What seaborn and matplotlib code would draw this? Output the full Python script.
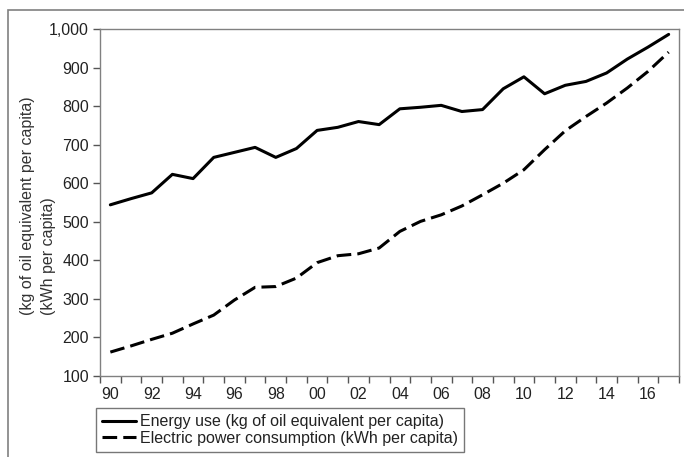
import numpy as np
import pandas as pd
import matplotlib
matplotlib.use("Agg")
import matplotlib.pyplot as plt
import seaborn as sns
from matplotlib.patches import Rectangle
from matplotlib.ticker import FuncFormatter

years = list(range(1990, 2018))
energy_use = [544, 560, 575, 623, 612, 667, 680, 693, 667, 690, 737, 745, 760, 752,
              793, 797, 802, 786, 791, 845, 876, 832, 854, 864, 886, 922, 953, 986]
electric_power = [162, 178, 195, 211, 235, 258, 297, 330, 332, 354, 394, 412, 417, 432,
                  475, 501, 518, 541, 570, 600, 635, 687, 736, 773, 808, 847, 890, 940]
series_names = ["Energy use (kg of oil equivalent per capita)",
                "Electric power consumption (kWh per capita)"]
y_label = "(kg of oil equivalent per capita)\n(kWh per capita)"

df = pd.DataFrame({
    "year": years * 2,
    "value": energy_use + electric_power,
    "series": [series_names[0]] * len(years) + [series_names[1]] * len(years),
})

sns.set_style("white")
plt.rcParams['font.family'] = ['Liberation Sans', 'DejaVu Sans']
FS = 11.5

fig = plt.figure(figsize=(6.84, 4.57), dpi=100)
ax = fig.add_axes([100 / 684, 1 - 376 / 457, 579 / 684, 347 / 457])

sns.lineplot(data=df, x="year", y="value", style="series",
             dashes={series_names[0]: "", series_names[1]: (4.8, 2.0)},
             color="black", lw=2.2, ax=ax)

# outer frame, partly cut by the image border
fig.patches.append(Rectangle((8 / 684, -0.1), 1.2, 1 - 10 / 457 + 0.1,
                             transform=fig.transFigure, fill=False,
                             edgecolor="#808080", lw=1.2))

ax.set_xlim(1989.5, 2017.5)
ax.set_ylim(100, 1000)
ax.set_yticks(range(100, 1001, 100))
ax.yaxis.set_major_formatter(FuncFormatter(lambda v, p: f"{int(v):,}"))
# tick marks between years, labels every other year
ax.set_xticks(np.arange(1989.5, 2018, 1.0))
ax.set_xticklabels([])
ax.set_xticks([y for y in years if y % 2 == 0], minor=True)
ax.set_xticklabels([f"{y % 100:02d}" for y in years if y % 2 == 0], minor=True)
ax.tick_params(axis="x", which="major", direction="out", length=5, width=1, color="#555555", bottom=True)
ax.tick_params(axis="x", which="minor", length=0, pad=8, labelsize=FS, labelcolor="#222222")
ax.tick_params(axis="y", direction="out", length=5, width=1, color="#555555", left=True,
               labelsize=FS, labelcolor="#222222", pad=3)

for s in ax.spines.values():
    s.set_color("#808080")
    s.set_linewidth(1)

ax.set_xlabel("")
ax.set_ylabel(y_label, fontsize=FS, color="#333333", multialignment="left", linespacing=1.5)
ax.yaxis.set_label_coords((56 - 100) / 579, 0.49)

handles, labels = ax.get_legend_handles_labels()
leg = ax.legend(handles, labels, loc="upper left", bbox_to_anchor=(96 / 684, 1 - 408 / 457),
                bbox_transform=fig.transFigure, borderaxespad=0, frameon=True, fancybox=False,
                edgecolor="#555555", fontsize=FS, handlelength=2.1, handletextpad=0.25,
                labelspacing=0.1, borderpad=0.4)
leg.get_frame().set_linewidth(1)
for t in leg.get_texts():
    t.set_color("#222222")

fig.savefig("out.png", dpi=100)
